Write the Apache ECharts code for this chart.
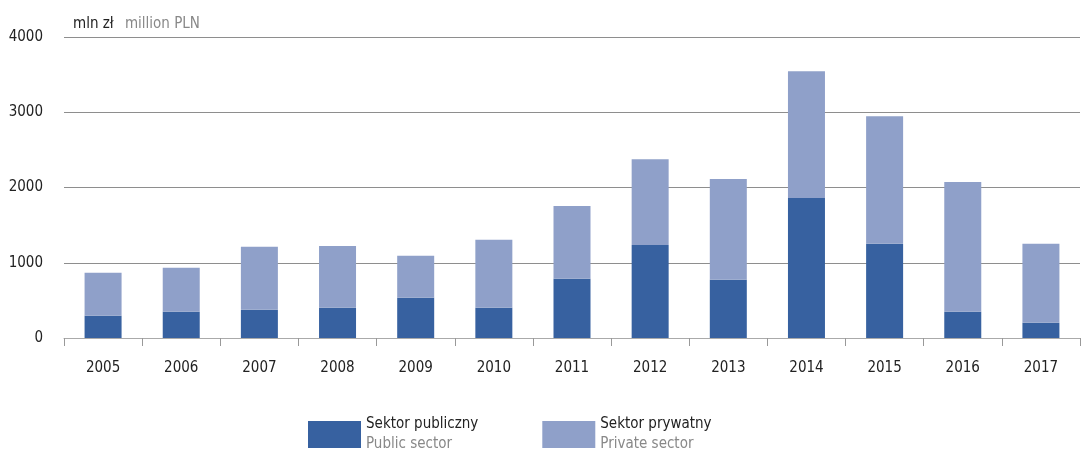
<!DOCTYPE html>
<html><head><meta charset="utf-8">
<script src="https://cdn.jsdelivr.net/npm/echarts@6/dist/echarts.min.js"></script>
<style>html,body{margin:0;padding:0;background:#fff}#c{width:1082px;height:453px}</style>
</head><body><div id="c"></div>
<script>
const years = ['2005','2006','2007','2008','2009','2010','2011','2012','2013','2014','2015','2016','2017'];
const publicSector = [296, 349, 375, 402, 534, 402, 787, 1237, 773, 1860, 1251, 349, 203];
const privateSector = [570, 583, 836, 822, 558, 902, 967, 1140, 1339, 1684, 1696, 1723, 1048];
const yTicks = [0, 1000, 2000, 3000, 4000];
const seriesNames = ['Sektor publiczny', 'Sektor prywatny'];
const seriesNamesEn = ['Public sector', 'Private sector'];

const FONT = "'Liberation Sans Narrow','DejaVu Sans Condensed','Roboto',sans-serif";
const chart = echarts.init(document.getElementById('c'), null, {renderer:'canvas'});
chart.setOption({
  animation: false,
  textStyle: {fontFamily: FONT},
  title: {
    text: '{a|mln zł}  {b|million PLN}',
    left: 68, top: 10,
    textStyle: {rich: {
      a: {fontFamily: FONT, fontSize: 15, color: '#222', fontWeight: 'normal'},
      b: {fontFamily: FONT, fontSize: 15, color: '#888', fontWeight: 'normal'}
    }}
  },
  grid: {left: 64, right: 2, top: 37, bottom: 115},
  xAxis: {
    type: 'category', data: years,
    axisLine: {lineStyle: {color: '#aaa', width: 1}},
    axisTick: {show: true, length: 8, lineStyle: {color: '#999'}},
    axisLabel: {color: '#222', fontSize: 15, margin: 23, fontFamily: FONT}
  },
  yAxis: {
    type: 'value', min: 0, max: 4000, interval: 1000,
    axisLine: {show: false}, axisTick: {show: false},
    splitLine: {lineStyle: {color: '#8e8e8e', width: 1}},
    axisLabel: {color: '#222', fontSize: 15, margin: 21, fontFamily: FONT,
      formatter: v => yTicks.includes(v) ? String(v) : ''}
  },
  legend: {
    left: 303, top: 412, itemWidth: 53, itemHeight: 27, itemGap: 64,
    icon: 'rect',
    data: seriesNames,
    formatter: name => '{a|' + name + '}\n{b|' + seriesNamesEn[seriesNames.indexOf(name)] + '}',
    textStyle: {rich: {
      a: {fontFamily: FONT, fontSize: 15, color: '#222', lineHeight: 20},
      b: {fontFamily: FONT, fontSize: 15, color: '#888', lineHeight: 20}
    }}
  },
  series: [
    {name: seriesNames[0], type: 'bar', stack: 't', data: publicSector, barWidth: 37,
     itemStyle: {color: '#3761a0'}},
    {name: seriesNames[1], type: 'bar', stack: 't', data: privateSector, barWidth: 37,
     itemStyle: {color: '#8fa0c9'}}
  ]
});
</script></body></html>
